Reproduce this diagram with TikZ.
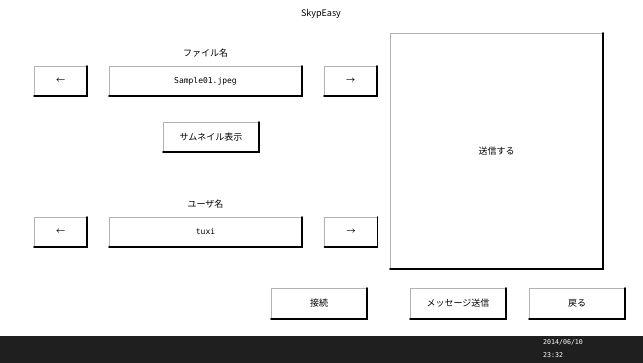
\documentclass[tikz,border=0pt]{standalone}
\usepackage{fontspec}
\setmainfont{Noto Sans CJK JP}
\setmonofont{DejaVu Sans Mono}
\usetikzlibrary{positioning}

\begin{document}
\begin{tikzpicture}[x=1pt,y=-1pt]
\tikzstyle{button}=[draw=gray!60,fill=white,line width=0.7pt,inner sep=0pt,outer sep=0pt,minimum height=30pt,font=\fontsize{9}{10}\selectfont]
\tikzstyle{arrowbtn}=[button,minimum width=53pt]
\tikzstyle{fieldbtn}=[button,minimum width=193pt,font=\ttfamily\fontsize{8}{9}\selectfont]
\tikzstyle{cmdbtn}=[button,minimum width=96pt]
\tikzstyle{caption}=[font=\fontsize{9}{10}\selectfont,inner sep=1pt]
\useasboundingbox (0,0) rectangle (643,363);
\fill[white] (0,0) rectangle (643,363);

% title
\node [caption] (title) at(321,14) {SkypEasy};

% file name row
\node [arrowbtn] (prevfile) at(60.5,81) {←};
\node [fieldbtn] (filename) at(205.5,81) {Sample01.jpeg};
\node [arrowbtn] (nextfile) at(350.5,81) {→};
\node [caption,above=8pt of filename] (filelabel) {ファイル名};

\node [cmdbtn] (thumb) at(211,137) {サムネイル表示};

% user name row
\node [arrowbtn] (prevuser) at(60.5,232) {←};
\node [fieldbtn] (username) at(205.5,232) {tuxi};
\node [arrowbtn] (nextuser) at(351,232) {→};
\node [caption,above=8pt of username] (userlabel) {ユーザ名};

% send area
\node [button,minimum width=213pt,minimum height=236pt] (send) at(496.5,151) {送信する};

% bottom commands
\node [cmdbtn,minimum height=31pt] (connect) at(319,303.5) {接続};
\node [cmdbtn,minimum height=31pt] (message) at(458,303.5) {メッセージ送信};
\node [cmdbtn,minimum height=31pt] (back) at(577,303.5) {戻る};

\foreach \b in {prevfile,filename,nextfile,thumb,prevuser,username,nextuser,send,connect,message,back}
  \draw [line width=1.6pt,line cap=round] (\b.north east) -- (\b.south east) -- (\b.south west);

% status bar
\fill [black!88] (0,336) rectangle (643,363);
\node [white,font=\ttfamily\fontsize{6.6}{7}\selectfont,anchor=west,inner sep=0pt] (date) at(543,342) {2014/06/10};
\node [white,font=\ttfamily\fontsize{6.6}{7}\selectfont,anchor=west,inner sep=0pt] (clock) at(543,355) {23:32};
\end{tikzpicture}
\end{document}
